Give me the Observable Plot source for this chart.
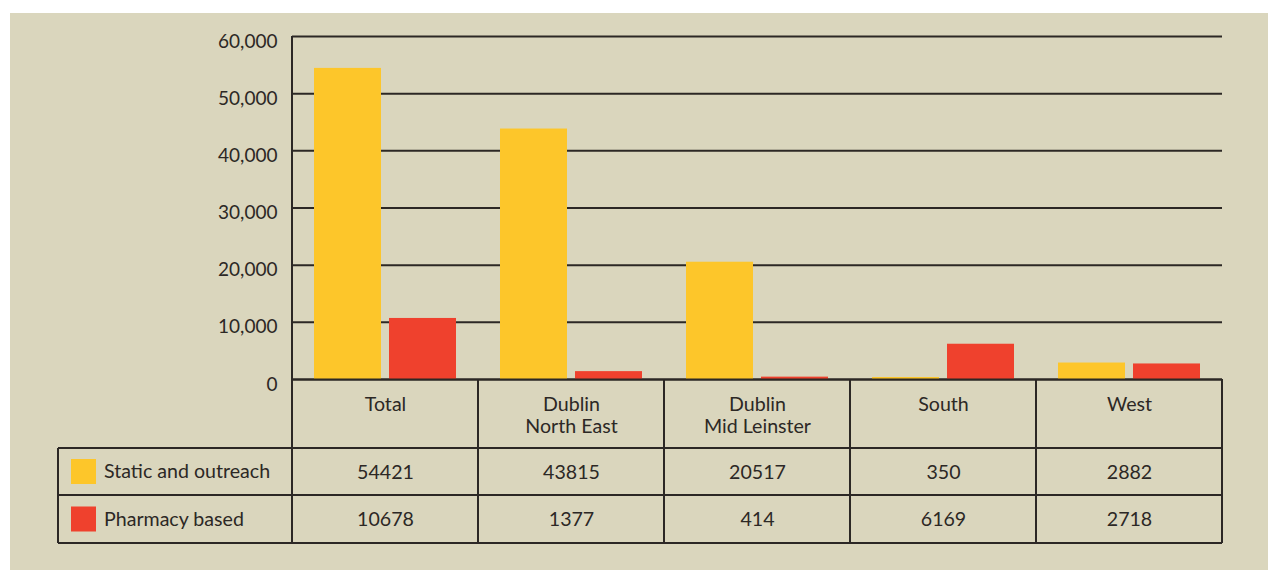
<!DOCTYPE html>
<html><head><meta charset="utf-8">
<script src="https://cdn.jsdelivr.net/npm/d3@7"></script>
<script src="https://cdn.jsdelivr.net/npm/@observablehq/plot@0.6"></script>
<style>
html,body{margin:0;padding:0;background:#fff;}
#panel{position:absolute;left:10px;top:13px;width:1258px;height:557px;background:#dad6bd;}
#panel svg{display:block;overflow:visible;}
</style></head><body><div id="panel"></div>
<script>
const categories = ["Total", "Dublin North East", "Dublin Mid Leinster", "South", "West"];
const categoryLabels = ["Total", "Dublin\nNorth East", "Dublin\nMid Leinster", "South", "West"];
const seriesNames = ["Static and outreach", "Pharmacy based"];
const staticOutreach = [54421, 43815, 20517, 350, 2882];
const pharmacyBased = [10678, 1377, 414, 6169, 2718];
const yTicks = [0, 10000, 20000, 30000, 40000, 50000, 60000];
const seriesColors = ["#fdc62a", "#ef412d"];

const ink = "#2c2825";
const font = "Lato, 'Open Sans', sans-serif";
const fs = 19.6;
const rows = categories.map((c, i) => ({
  category: c, label: categoryLabels[i], s: staticOutreach[i], p: pharmacyBased[i]
}));

const plot = Plot.plot({
  width: 1258, height: 557,
  marginLeft: 282, marginRight: 46, marginTop: 23, marginBottom: 191,
  style: {background: "transparent", fontFamily: font, fontSize: "19px", color: ink},
  x: {domain: categories, padding: 0, axis: null},
  y: {domain: [0, 60000], axis: null},
  marks: [
    Plot.ruleY(yTicks, {stroke: ink, strokeWidth: 2}),
    Plot.barY(rows, {x: "category", y: "s", fill: seriesColors[0], insetLeft: 22, insetRight: 97}),
    Plot.barY(rows, {x: "category", y: "p", fill: seriesColors[1], insetLeft: 97, insetRight: 22}),
    Plot.ruleY([0], {stroke: ink, strokeWidth: 2}),
    Plot.axisY(yTicks, {tickSize: 0, tickPadding: 15, tickFormat: d3.format(","), label: null,
      fontSize: 19, fill: ink, dy: 5}),
    Plot.text(rows, {x: "category", y: () => 0, text: "label", lineAnchor: "top", dy: 16,
      lineHeight: 1.13, fontSize: fs, fill: ink}),
    Plot.text(rows, {x: "category", y: () => 0, text: d => String(d.s), dy: 93, fontSize: fs, fill: ink}),
    Plot.text(rows, {x: "category", y: () => 0, text: d => String(d.p), dy: 140, fontSize: fs, fill: ink})
  ]
});
document.getElementById("panel").appendChild(plot);

// table structure from the plot's own scales
const xs = plot.scale("x"), ys = plot.scale("y");
const svg = d3.select(plot);
const bw = xs.bandwidth;
const y0 = ys.apply(0), yTop = ys.apply(60000);
const left = xs.apply(categories[0]);
const right = xs.apply(categories[categories.length - 1]) + bw;
const tableLeft = left - 234;
const rowBottoms = [y0 + 69, y0 + 116, y0 + 164];
const g = svg.append("g").attr("stroke", ink).attr("stroke-width", 2).attr("fill", "none");
rowBottoms.forEach(yy => g.append("line").attr("x1", tableLeft).attr("x2", right).attr("y1", yy).attr("y2", yy));
g.append("line").attr("x1", tableLeft).attr("x2", tableLeft).attr("y1", rowBottoms[0]).attr("y2", rowBottoms[2]);
categories.forEach((c, i) => {
  const xx = xs.apply(c);
  g.append("line").attr("x1", xx).attr("x2", xx).attr("y1", i === 0 ? yTop : y0).attr("y2", rowBottoms[2]);
});
g.append("line").attr("x1", right).attr("x2", right).attr("y1", y0).attr("y2", rowBottoms[2]);

// legend cells
const rowCenters = [(rowBottoms[0] + rowBottoms[1]) / 2, (rowBottoms[1] + rowBottoms[2]) / 2];
seriesNames.forEach((name, i) => {
  svg.append("rect").attr("x", tableLeft + 13).attr("y", rowCenters[i] - 12.5)
    .attr("width", 25).attr("height", 25).attr("fill", seriesColors[i]);
  svg.append("text").attr("x", tableLeft + 46).attr("y", rowCenters[i]).attr("dy", "0.35em")
    .attr("text-anchor", "start")
    .attr("fill", ink).style("font-family", font).style("font-size", fs + "px").text(name);
});
</script>
</body></html>
